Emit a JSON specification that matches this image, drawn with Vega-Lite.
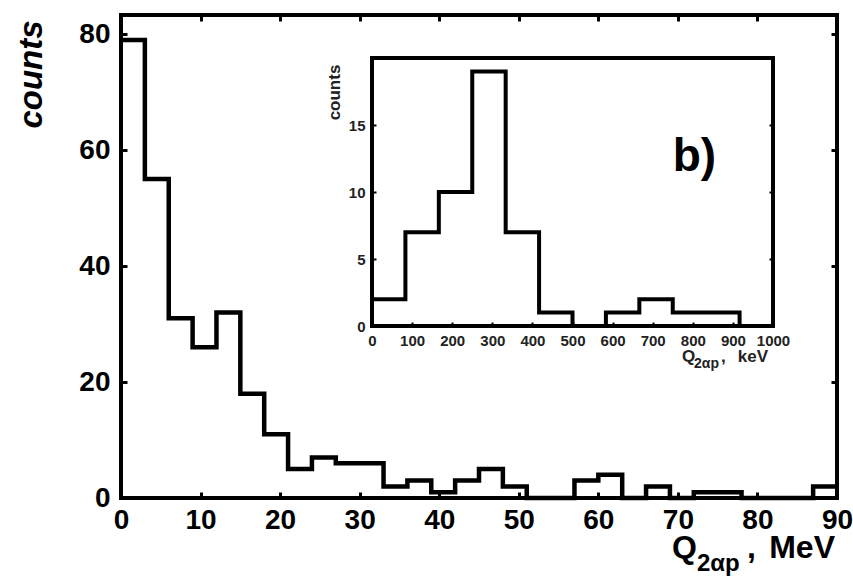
{
  "$schema": "https://vega.github.io/schema/vega-lite/v6.json",
  "width": 716,
  "height": 483,
  "autosize": {"type": "none"},
  "padding": {"left": 121, "top": 15, "right": 16, "bottom": 81},
  "background": "white",
  "config": {
    "view": {"stroke": "black", "strokeWidth": 4},
    "font": "Liberation Sans",
    "axis": {"grid": false, "domain": false, "labelFont": "Liberation Sans", "labelFontWeight": "bold", "labelColor": "black", "tickColor": "black", "labelFlush": false, "labelOverlap": false}
  },
  "datasets": {
    "main": [
      {"q": 0, "counts": 79}, {"q": 3, "counts": 55}, {"q": 6, "counts": 31}, {"q": 9, "counts": 26},
      {"q": 12, "counts": 32}, {"q": 15, "counts": 18}, {"q": 18, "counts": 11}, {"q": 21, "counts": 5},
      {"q": 24, "counts": 7}, {"q": 27, "counts": 6}, {"q": 30, "counts": 6}, {"q": 33, "counts": 2},
      {"q": 36, "counts": 3}, {"q": 39, "counts": 1}, {"q": 42, "counts": 3}, {"q": 45, "counts": 5},
      {"q": 48, "counts": 2}, {"q": 51, "counts": 0}, {"q": 54, "counts": 0}, {"q": 57, "counts": 3},
      {"q": 60, "counts": 4}, {"q": 63, "counts": 0}, {"q": 66, "counts": 2}, {"q": 69, "counts": 0},
      {"q": 72, "counts": 1}, {"q": 75, "counts": 1}, {"q": 78, "counts": 0}, {"q": 81, "counts": 0},
      {"q": 84, "counts": 0}, {"q": 87, "counts": 2}, {"q": 90, "counts": 2}
    ],
    "inset": [
      {"q": 0, "counts": 2}, {"q": 83.33, "counts": 7}, {"q": 166.67, "counts": 10}, {"q": 250, "counts": 19},
      {"q": 333.33, "counts": 7}, {"q": 416.67, "counts": 1}, {"q": 500, "counts": 0}, {"q": 583.33, "counts": 1},
      {"q": 666.67, "counts": 2}, {"q": 750, "counts": 1}, {"q": 833.33, "counts": 1}, {"q": 916.67, "counts": 0},
      {"q": 1000, "counts": 0}
    ],
    "one": [{"k": 1}]
  },
  "layer": [
    {
      "layer": [
        {
          "data": {"name": "main"},
          "mark": {"type": "line", "interpolate": "step-after", "color": "black", "strokeWidth": 4.5, "strokeJoin": "miter"},
          "encoding": {
            "x": {"field": "q", "type": "quantitative",
              "scale": {"domain": [0, 90], "nice": false, "zero": false},
              "axis": {"orient": "bottom", "values": [0, 10, 20, 30, 40, 50, 60, 70, 80, 90], "labelFontSize": 28, "labelPadding": 14, "tickSize": -6, "tickWidth": 3, "title": null}},
            "y": {"field": "counts", "type": "quantitative",
              "scale": {"domain": [0, 83.3], "nice": false},
              "axis": {"orient": "left", "values": [0, 20, 40, 60, 80], "labelFontSize": 28, "labelPadding": 17, "tickSize": -6, "tickWidth": 3,
                "title": "counts", "titleFont": "Liberation Sans", "titleFontSize": 33, "titleFontWeight": "bold", "titleFontStyle": "italic", "titleColor": "black",
                "titleAngle": 270, "titleAlign": "center", "titleBaseline": "middle", "titleX": -90, "titleY": 59}}
          }
        },
        {
          "data": {"name": "main"},
          "mark": {"type": "line", "opacity": 0},
          "encoding": {
            "x": {"field": "q", "type": "quantitative",
              "axis": {"orient": "top", "values": [10, 20, 30, 40, 50, 60, 70, 80], "labels": false, "tickSize": -6, "tickWidth": 3, "title": null}},
            "y": {"field": "counts", "type": "quantitative",
              "axis": {"orient": "right", "values": [20, 40, 60, 80], "labels": false, "tickSize": -6, "tickWidth": 3, "title": null}}
          }
        },
        {
          "data": {"name": "one"},
          "mark": {"type": "text", "align": "left", "baseline": "alphabetic", "dx": -165, "dy": 60, "fontSize": 32, "fontWeight": "bold", "color": "black"},
          "encoding": {"x": {"datum": 90, "axis": null}, "y": {"datum": 0, "axis": null}, "text": {"value": "Q"}}
        },
        {
          "data": {"name": "one"},
          "mark": {"type": "text", "align": "left", "baseline": "alphabetic", "dx": -140, "dy": 73, "fontSize": 24, "fontWeight": "bold", "color": "black"},
          "encoding": {"x": {"datum": 90, "axis": null}, "y": {"datum": 0, "axis": null}, "text": {"value": "2αp"}}
        },
        {
          "data": {"name": "one"},
          "mark": {"type": "text", "align": "left", "baseline": "alphabetic", "dx": -90, "dy": 60, "fontSize": 32, "fontWeight": "bold", "color": "black"},
          "encoding": {"x": {"datum": 90, "axis": null}, "y": {"datum": 0, "axis": null}, "text": {"value": ","}}
        },
        {
          "data": {"name": "one"},
          "mark": {"type": "text", "align": "right", "baseline": "alphabetic", "dx": -2, "dy": 60, "fontSize": 32, "fontWeight": "bold", "color": "black"},
          "encoding": {"x": {"datum": 90, "axis": null}, "y": {"datum": 0, "axis": null}, "text": {"value": "MeV"}}
        }
      ],
      "resolve": {"axis": {"x": "independent", "y": "independent"}}
    },
    {
      "layer": [
        {
          "data": {"name": "inset"},
          "mark": {"type": "line", "interpolate": "step-after", "color": "black", "strokeWidth": 4, "strokeJoin": "miter"},
          "encoding": {
            "x": {"field": "q", "type": "quantitative",
              "scale": {"domain": [0, 1000], "range": [251, 652], "nice": false, "zero": false},
              "axis": {"orient": "bottom", "offset": -172, "values": [0, 100, 200, 300, 400, 500, 600, 700, 800, 900, 1000], "format": "d", "labelFontSize": 15, "labelColor": "#222", "labelPadding": 11, "tickSize": -4, "tickWidth": 2, "title": null}},
            "y": {"field": "counts", "type": "quantitative",
              "scale": {"domain": [0, 20], "range": [311, 43], "nice": false},
              "axis": {"orient": "left", "offset": -251, "values": [0, 5, 10, 15], "labelFontSize": 15, "labelColor": "#222", "labelPadding": 11, "tickSize": -4, "tickWidth": 2,
                "title": "counts", "titleFont": "Liberation Sans", "titleFontSize": 17, "titleFontWeight": "bold", "titleColor": "#222",
                "titleAngle": 270, "titleAlign": "center", "titleBaseline": "middle", "titleX": -38, "titleY": 77}}
          }
        },
        {
          "data": {"name": "one"},
          "mark": {"type": "rect", "filled": false, "stroke": "black", "strokeWidth": 4},
          "encoding": {"x": {"datum": 0, "axis": null}, "x2": {"datum": 1000},
            "y": {"datum": 0, "axis": {"orient": "right", "offset": -64, "values": [5, 10, 15], "labels": false, "tickSize": -4, "tickWidth": 2, "title": null}},
            "y2": {"datum": 20}}
        },
        {
          "data": {"name": "one"},
          "mark": {"type": "text", "align": "left", "baseline": "alphabetic", "fontSize": 46, "fontWeight": "bold", "color": "black"},
          "encoding": {"x": {"datum": 750, "axis": null}, "y": {"datum": 11.6, "axis": null}, "text": {"value": "b)"}}
        },
        {
          "data": {"name": "one"},
          "mark": {"type": "text", "align": "left", "baseline": "alphabetic", "dx": -91, "dy": 36, "fontSize": 17, "fontWeight": "bold", "color": "#222"},
          "encoding": {"x": {"datum": 1000, "axis": null}, "y": {"datum": 0, "axis": null}, "text": {"value": "Q"}}
        },
        {
          "data": {"name": "one"},
          "mark": {"type": "text", "align": "left", "baseline": "alphabetic", "dx": -79, "dy": 42, "fontSize": 14, "fontWeight": "bold", "color": "#222"},
          "encoding": {"x": {"datum": 1000, "axis": null}, "y": {"datum": 0, "axis": null}, "text": {"value": "2αp"}}
        },
        {
          "data": {"name": "one"},
          "mark": {"type": "text", "align": "left", "baseline": "alphabetic", "dx": -52, "dy": 36, "fontSize": 17, "fontWeight": "bold", "color": "#222"},
          "encoding": {"x": {"datum": 1000, "axis": null}, "y": {"datum": 0, "axis": null}, "text": {"value": ","}}
        },
        {
          "data": {"name": "one"},
          "mark": {"type": "text", "align": "right", "baseline": "alphabetic", "dx": -5, "dy": 36, "fontSize": 17, "fontWeight": "bold", "color": "#222"},
          "encoding": {"x": {"datum": 1000, "axis": null}, "y": {"datum": 0, "axis": null}, "text": {"value": "keV"}}
        }
      ],
      "resolve": {"axis": {"x": "independent", "y": "independent"}}
    }
  ],
  "resolve": {"scale": {"x": "independent", "y": "independent"}}
}
